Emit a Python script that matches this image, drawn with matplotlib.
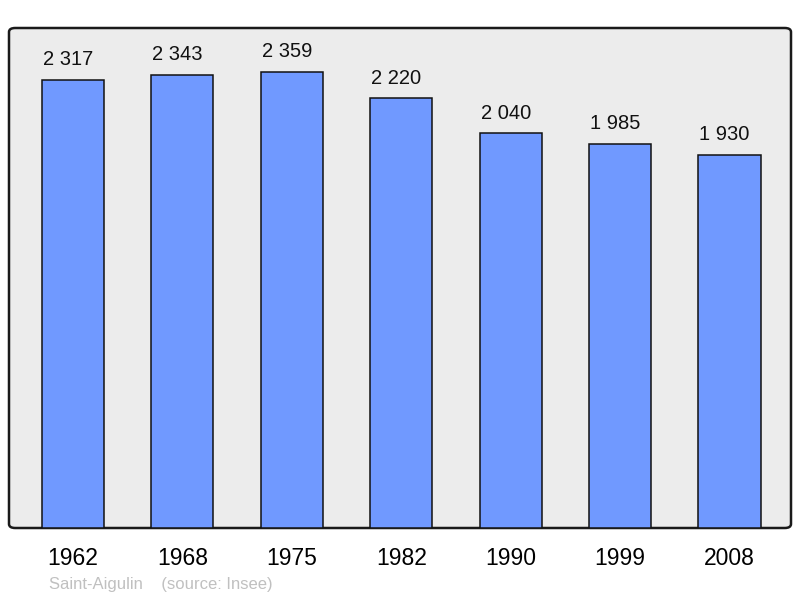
import matplotlib
matplotlib.use("Agg")
import matplotlib.pyplot as plt
from matplotlib.patches import FancyBboxPatch

years = ["1962", "1968", "1975", "1982", "1990", "1999", "2008"]
population = [2317, 2343, 2359, 2220, 2040, 1985, 1930]
commune = "Saint-Aigulin"
source = "(source: Insee)"

plt.rcParams['font.family'] = ['Liberation Sans', 'DejaVu Sans']

fig = plt.figure(figsize=(8, 5.98), dpi=100)
ax = fig.add_axes([9 / 800, 1 - 528 / 598, 782 / 800, 500 / 598])

# rounded grey frame behind the plot area
frame = FancyBboxPatch((0, 0), 1, 1, boxstyle="round,pad=0,rounding_size=0.008",
                       transform=ax.transAxes, facecolor="#ececec",
                       edgecolor="#1a1a1a", linewidth=1.8, zorder=0, clip_on=False)
ax.add_patch(frame)
ax.set_facecolor("none")
for s in ax.spines.values():
    s.set_visible(False)

x = list(range(len(years)))
bars = ax.bar(x, population, width=0.567, color="#7099ff", edgecolor="#111111",
              linewidth=1.1, zorder=2)

for xi, v in zip(x, population):
    label = f"{v:,}".replace(",", " ")
    ax.annotate(label, (xi, v), xytext=(-3.5, 10.5), textcoords="offset points",
                ha="center", va="baseline", fontsize=14.5, color="#111111")

ax.set_xlim(-0.585, 6.562)
ax.set_ylim(0, 2584)
ax.set_yticks([])
ax.set_xticks(x)
ax.set_xticklabels(years, fontsize=16.5)
ax.tick_params(axis="x", length=0, pad=14)

fig.text(49 / 800, 1 - 584 / 598, commune + "    " + source, fontsize=12,
         color="#c0c0c0", ha="left", va="center")

fig.savefig("out.png", dpi=100)
